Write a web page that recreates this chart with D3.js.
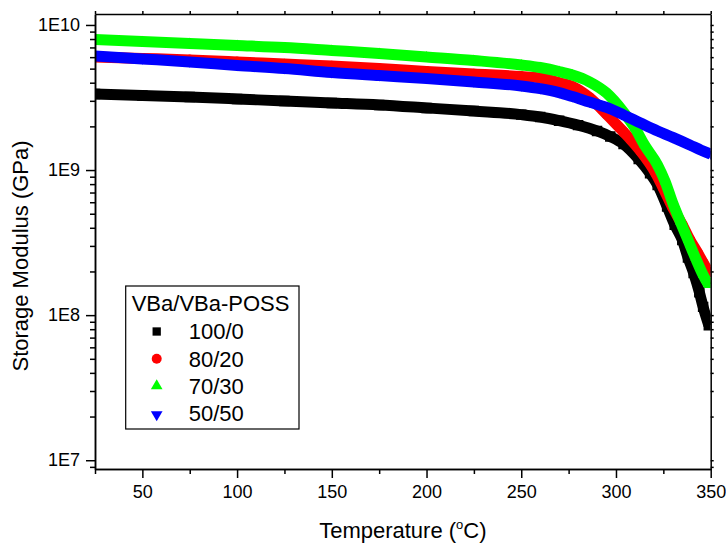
<!DOCTYPE html>
<html>
<head>
<meta charset="utf-8">
<script src="https://cdn.jsdelivr.net/npm/d3@7"></script>
<style>
  body { margin: 0; background: #fff; }
  text { font-family: Arial, "Liberation Sans", sans-serif; fill: #000; }
</style>
</head>
<body>
<div class="chart"></div>
<script>
// Values: temperature (°C) and storage modulus
const temp100_0 = [25, 50, 75, 100, 125, 150, 175, 200, 225, 250, 260, 270, 280, 290, 297, 304, 312, 318, 322, 327, 331, 335, 338, 341, 344, 346, 349]
const mod100_0  = [3.34e9, 3.27e9, 3.19e9, 3.09e9, 2.99e9, 2.90e9, 2.81e9, 2.68e9, 2.55e9, 2.41e9, 2.32e9, 2.19e9, 2.04e9, 1.86e9, 1.70e9, 1.51e9, 1.19e9, 9.5e8, 7.9e8, 5.6e8, 4.2e8, 3.3e8, 2.5e8, 1.95e8, 1.44e8, 1.14e8, 8.5e7]

const temp80_20 = [25, 50, 75, 100, 125, 150, 175, 200, 225, 250, 260, 270, 277, 286, 295, 304, 308, 313, 321, 325, 330, 335, 339, 343, 346, 349]
const mod80_20  = [6.02e9, 5.88e9, 5.74e9, 5.56e9, 5.38e9, 5.21e9, 5.01e9, 4.78e9, 4.59e9, 4.41e9, 4.31e9, 4.0e9, 3.77e9, 3.16e9, 2.43e9, 1.83e9, 1.61e9, 1.35e9, 9.5e8, 7.5e8, 5.5e8, 4.2e8, 3.3e8, 2.7e8, 2.3e8, 1.98e8]

const temp70_30 = [25, 50, 75, 100, 125, 150, 175, 200, 225, 250, 260, 270, 277, 286, 295, 304, 310, 315, 322, 326, 330, 334, 338, 342, 346, 349]
const mod70_30  = [7.94e9, 7.69e9, 7.45e9, 7.22e9, 6.99e9, 6.67e9, 6.36e9, 6.02e9, 5.69e9, 5.30e9, 5.09e9, 4.78e9, 4.52e9, 4.06e9, 3.40e9, 2.51e9, 1.95e9, 1.49e9, 1.08e9, 8.3e8, 5.9e8, 4.4e8, 3.3e8, 2.47e8, 1.89e8, 1.61e8]

const temp50_50 = [25, 50, 75, 100, 125, 150, 175, 200, 225, 250, 260, 270, 277, 286, 295, 304, 313, 322, 330, 339, 345, 350]
const mod50_50  = [6.11e9, 5.83e9, 5.56e9, 5.26e9, 5.01e9, 4.70e9, 4.48e9, 4.28e9, 4.05e9, 3.80e9, 3.64e9, 3.42e9, 3.21e9, 2.94e9, 2.70e9, 2.40e9, 2.11e9, 1.86e9, 1.68e9, 1.49e9, 1.37e9, 1.29e9]

const seriesNames = ["100/0", "80/20", "70/30", "50/50"]
const legendTitle = "VBa/VBa-POSS"

// Tick values and labels
const xMajor = [50, 100, 150, 200, 250, 300, 350]
const xMinor = [25, 75, 125, 175, 225, 275, 325]
const yMajor = [1e7, 1e8, 1e9, 1e10]
const yLabels = ["1E7", "1E8", "1E9", "1E10"]

const colors = ["#000000", "#ff0000", "#00ff00", "#0000ff"]
const shapes = [d3.symbolSquare, d3.symbolCircle, d3.symbolTriangle, d3.symbolTriangle]
const flips = [0, 0, 0, 180]

const series = [
  {temp: temp100_0, mod: mod100_0},
  {temp: temp80_20, mod: mod80_20},
  {temp: temp70_30, mod: mod70_30},
  {temp: temp50_50, mod: mod50_50}
]

// Layout
const W = 726, H = 544
const margin = {top: 14, right: 15.3, bottom: 75, left: 95}
const width = W - margin.left - margin.right
const height = H - margin.top - margin.bottom

const xScale = d3.scaleLinear().domain([25, 350]).range([0, width])
const yScale = d3.scaleLog().domain([8.7e6, 1.19e10]).range([height, 0])

const svg = d3.select(".chart").append("svg")
    .attr("width", W)
    .attr("height", H)

const g = svg.append("g")
    .attr("transform", `translate(${margin.left},${margin.top})`)

// Clip the curves to the frame
g.append("clipPath").attr("id", "plot-clip")
  .append("rect")
    .attr("width", width)
    .attr("height", height)

const plot = g.append("g").attr("clip-path", "url(#plot-clip)")

const line = d3.line()
    .x(d => xScale(d[0]))
    .y(d => yScale(d[1]))
    .curve(d3.curveMonotoneX)

// markers kept inside the band so the edges stay smooth
const markerSizes = [110, 90, 45, 45]

series.forEach((s, i) => {
  const pts = s.temp.map((t, j) => [t, s.mod[j]])
  plot.append("path")
      .datum(pts)
      .attr("d", line)
      .attr("fill", "none")
      .attr("stroke", colors[i])
      .attr("stroke-width", 11)
      .attr("stroke-linejoin", "round")

  plot.selectAll(".m" + i)
    .data(pts)
    .enter()
    .append("path")
      .attr("class", "m" + i)
      .attr("d", d3.symbol().type(shapes[i]).size(markerSizes[i]))
      .attr("transform", d => `translate(${xScale(d[0])},${yScale(d[1])}) rotate(${flips[i]})`)
      .attr("fill", colors[i])
})

// Minor log ticks (2..9 x 10^n)
const yMinor = yScale.ticks().filter(d => yMajor.indexOf(d) < 0)
const xAll = xMajor.concat(xMinor)
const yAll = yMajor.concat(yMinor)

function styleAxis(sel) {
  sel.select(".domain").attr("stroke-width", 1.5)
  sel.selectAll(".tick line").attr("stroke-width", 1.5)
  sel.selectAll("text").attr("font-size", 18).attr("font-family", "Arial, 'Liberation Sans', sans-serif")
}

// Bottom axis
g.append("g")
    .attr("transform", `translate(0,${height})`)
    .call(d3.axisBottom(xScale).tickValues(xMajor).tickSize(9).tickSizeOuter(0).tickPadding(7))
    .call(styleAxis)
g.append("g")
    .attr("transform", `translate(0,${height})`)
    .call(d3.axisBottom(xScale).tickValues(xMinor).tickSize(5).tickSizeOuter(0).tickFormat(""))
    .call(styleAxis)

// Left axis
g.append("g")
    .call(d3.axisLeft(yScale).tickValues(yMajor).tickFormat((d, i) => yLabels[i]).tickSize(9).tickSizeOuter(0).tickPadding(6))
    .call(styleAxis)
g.append("g")
    .call(d3.axisLeft(yScale).tickValues(yMinor).tickSize(5).tickSizeOuter(0).tickFormat(""))
    .call(styleAxis)

// Top and right axes, small ticks, no labels
g.append("g")
    .call(d3.axisTop(xScale).tickValues(xAll).tickSize(3).tickSizeOuter(0).tickFormat(""))
    .call(styleAxis)
g.append("g")
    .attr("transform", `translate(${width},0)`)
    .call(d3.axisRight(yScale).tickValues(yAll).tickSize(3).tickSizeOuter(0).tickFormat(""))
    .call(styleAxis)

// Axis titles
const xTitle = svg.append("text")
    .attr("x", margin.left + width / 2)
    .attr("y", 538)
    .attr("text-anchor", "middle")
    .attr("font-size", 22)
xTitle.append("tspan").text("Temperature (")
xTitle.append("tspan").text("o").attr("font-size", 13).attr("dy", -9)
xTitle.append("tspan").text("C)").attr("dy", 9)

svg.append("text")
    .attr("transform", "translate(28,256) rotate(-90)")
    .attr("text-anchor", "middle")
    .attr("font-size", 22)
    .text("Storage Modulus (GPa)")

// Legend
const legend = svg.append("g")
    .attr("class", "legend")
    .attr("transform", "translate(125.7,286)")

legend.append("rect")
    .attr("width", 173.3)
    .attr("height", 143)
    .attr("fill", "#fff")
    .attr("stroke", "#000")
    .attr("stroke-width", 1.2)

legend.append("text")
    .attr("x", 6)
    .attr("y", 24.7)
    .attr("font-size", 22)
    .text(legendTitle)

const legendSizes = [69, 78, 59, 59]

legend.selectAll(".lsym")
  .data(seriesNames)
  .enter()
  .append("path")
    .attr("class", "lsym")
    .attr("d", (d, i) => d3.symbol().type(shapes[i]).size(legendSizes[i])())
    .attr("transform", (d, i) => `translate(31,${45.5 + 27.2 * i + (i === 3 ? 1.5 : 0)}) rotate(${flips[i]})`)
    .attr("fill", (d, i) => colors[i])

legend.selectAll(".ltxt")
  .data(seriesNames)
  .enter()
  .append("text")
    .attr("class", "ltxt")
    .attr("x", 63)
    .attr("y", (d, i) => 53.3 + 27.2 * i)
    .attr("font-size", 22)
    .text(d => d)
</script>
</body>
</html>
